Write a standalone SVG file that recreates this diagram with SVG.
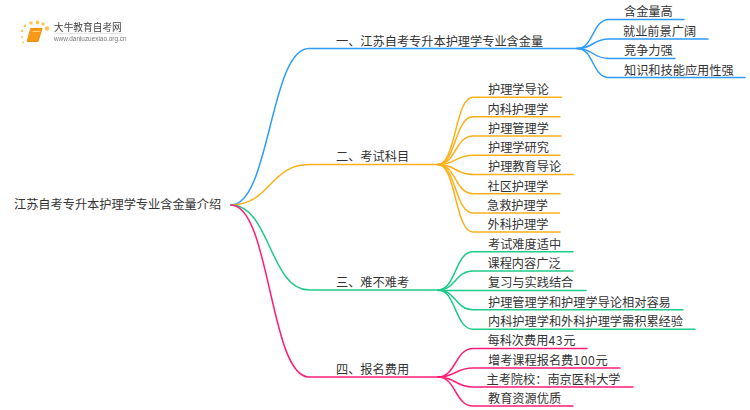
<svg xmlns="http://www.w3.org/2000/svg" width="750" height="410" viewBox="0 0 750 410">
<style>
text{font-family:"Noto Sans CJK SC","Noto Sans",sans-serif;font-size:12.2px;fill:#333}
.d{letter-spacing:.6px}
path{fill:none;stroke-width:1.5;stroke-linecap:round}
.b{stroke:#2e9bff}.o{stroke:#fbb11c}.g{stroke:#1ecb88}.p{stroke:#ff1f78}
</style>
<defs><filter id="blur" x="-5%" y="-20%" width="110%" height="140%"><feGaussianBlur stdDeviation="0.4"/></filter></defs>
<rect width="750" height="410" fill="#fff"/>
<g id="logo" filter="url(#blur)">
<g fill="#fbc65a"><circle cx="47" cy="28.500" r="2.300"/><circle cx="43" cy="24" r="1.700"/><circle cx="37.500" cy="22.500" r="1.900"/><circle cx="31" cy="23" r="1.800"/><circle cx="25" cy="26" r="1.400"/><circle cx="22" cy="31" r="1.300"/><circle cx="22" cy="37" r="1.100"/><circle cx="23" cy="42.500" r="0.900"/></g>
<path d="M31 28.500H42L38 41.500H27.500Z" style="fill:#f79a14;stroke:#ee8a10;stroke-width:1"/>
<path d="M33 31.500H40" style="stroke:#ffd27a;stroke-width:1"/>
<text x="54" y="31" style="font-size:9.700px;fill:#444">大牛教育自考网</text>
<path d="M54 33.300H122" style="stroke:#ccc;stroke-width:0.600"/>
<text x="54" y="41.300" style="font-size:6.400px;fill:#777;font-family:'Liberation Sans',sans-serif">www.daniuzuexiao.org.cn</text>
</g>
<g id="connectors">
<path class="b" d="M231 205C270 205 270 48.500 309 48.500H577"/>
<path class="o" d="M231 205C270 205 270 164.500 309 164.500H438"/>
<path class="g" d="M231 205C270 205 270 290 309 290H438"/>
<path class="p" d="M231 205C270 205 270 377 309 377H438"/>
<path class="b" d="M577 48.500C594 48.500 592 19.500 609 19.500H684"/>
<path class="b" d="M577 48.500C594 48.500 592 39 609 39H708"/>
<path class="b" d="M577 48.500C594 48.500 592 58.500 609 58.500H675"/>
<path class="b" d="M577 48.500C594 48.500 592 77.500 609 77.500H745"/>
<path class="o" d="M438 164.500C456 164.500 455 97.300 473 97.300H561.500"/>
<path class="o" d="M438 164.500C456 164.500 455 116.700 473 116.700H560"/>
<path class="o" d="M438 164.500C456 164.500 455 136 473 136H561"/>
<path class="o" d="M438 164.500C456 164.500 455 155.300 473 155.300H560"/>
<path class="o" d="M438 164.500C456 164.500 455 174.500 473 174.500H573.500"/>
<path class="o" d="M438 164.500C456 164.500 455 193.700 473 193.700H560"/>
<path class="o" d="M438 164.500C456 164.500 455 213 473 213H559.500"/>
<path class="o" d="M438 164.500C456 164.500 455 232 473 232H560"/>
<path class="g" d="M438 290C456 290 455 251.700 473 251.700H573"/>
<path class="g" d="M438 290C456 290 455 271 473 271H573"/>
<path class="g" d="M438 290.500H586"/>
<path class="g" d="M438 290C456 290 455 309.700 473 309.700H683"/>
<path class="g" d="M438 290C456 290 455 329.300 473 329.300H695"/>
<path class="p" d="M438 377C456 377 455 348.500 473 348.500H587"/>
<path class="p" d="M438 377C456 377 455 368 473 368H620"/>
<path class="p" d="M438 377C456 377 455 387 473 387H633"/>
<path class="p" d="M438 377C456 377 455 406 473 406H573"/>
</g>
<g id="root"><text x="14" y="209">江苏自考专升本护理学专业含金量介绍</text></g>
<g id="n1"><text x="336" y="45.500">一、江苏自考专升本护理学专业含金量</text></g>
<g id="n1-1"><text x="624" y="16">含金量高</text></g>
<g id="n1-2"><text x="623" y="36">就业前景广阔</text></g>
<g id="n1-3"><text x="624" y="55">竞争力强</text></g>
<g id="n1-4"><text x="624" y="74.500">知识和技能应用性强</text></g>
<g id="n2"><text x="336" y="161">二、考试科目</text></g>
<g id="n2-1"><text x="488" y="94">护理学导论</text></g>
<g id="n2-2"><text x="487.500" y="113.500">内科护理学</text></g>
<g id="n2-3"><text x="488" y="133">护理管理学</text></g>
<g id="n2-4"><text x="488" y="152">护理学研究</text></g>
<g id="n2-5"><text x="488" y="171">护理教育导论</text></g>
<g id="n2-6"><text x="487.500" y="190.500">社区护理学</text></g>
<g id="n2-7"><text x="487" y="209.500">急救护理学</text></g>
<g id="n2-8"><text x="487.500" y="229">外科护理学</text></g>
<g id="n3"><text x="336" y="287">三、难不难考</text></g>
<g id="n3-1"><text x="488" y="248.500">考试难度适中</text></g>
<g id="n3-2"><text x="487.500" y="268">课程内容广泛</text></g>
<g id="n3-3"><text x="488" y="287">复习与实践结合</text></g>
<g id="n3-4"><text x="488" y="306.500">护理管理学和护理学导论相对容易</text></g>
<g id="n3-5"><text x="488" y="326">内科护理学和外科护理学需积累经验</text></g>
<g id="n4"><text x="336" y="374">四、报名费用</text></g>
<g id="n4-1"><text x="487.500" y="345">每科次费用<tspan class="d">43</tspan>元</text></g>
<g id="n4-2"><text x="488" y="364.500">增考课程报名费<tspan class="d">100</tspan>元</text></g>
<g id="n4-3"><text x="486.500" y="383.500">主考院校：南京医科大学</text></g>
<g id="n4-4"><text x="488" y="403">教育资源优质</text></g>
</svg>
